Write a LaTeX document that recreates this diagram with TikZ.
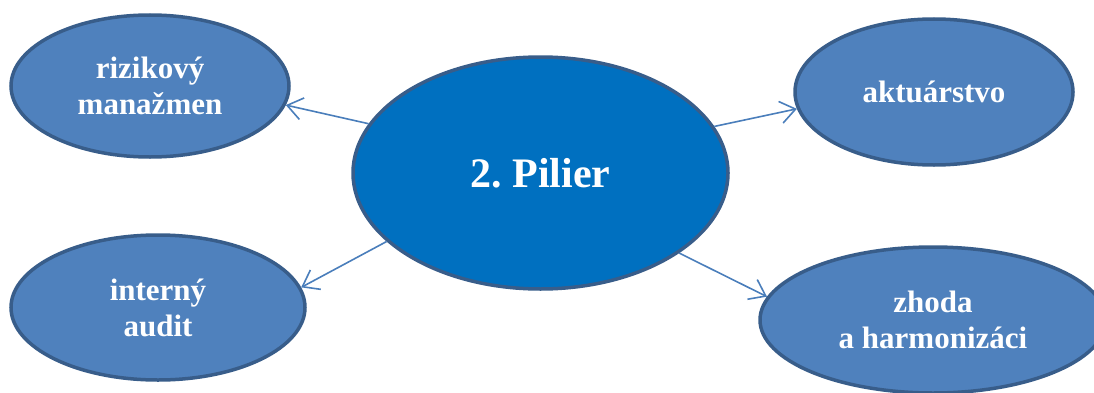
\documentclass[tikz,border=0pt]{standalone}
\usepackage{fontspec}
\setmainfont{Liberation Serif}
\usetikzlibrary{shapes.geometric,arrows.meta}
\definecolor{smallfill}{HTML}{4F81BD}
\definecolor{bigfill}{HTML}{0070C0}
\definecolor{rim}{HTML}{385D8A}
\definecolor{link}{HTML}{4A7EBB}
\tikzset{
  bubble/.style={ellipse, draw=rim, line width=3.5pt, fill=smallfill, inner sep=0pt,
    text=white, align=center, font=\bfseries\frenchspacing\fontsize{31}{36}\selectfont},
  hub/.style={bubble, fill=bigfill, font=\bfseries\frenchspacing\fontsize{42}{48}\selectfont},
  link/.style={draw=link, line width=1.6pt, -{Straight Barb[length=15pt,width=22pt,line width=1.6pt]}}
}
\begin{document}
\begin{tikzpicture}[x=1pt,y=1pt]
\path[use as bounding box, clip] (0,0) rectangle (1094,392);
\node[hub, minimum width=375pt, minimum height=232pt] (c) at (540.5,219) {2. Pilier};
\node[bubble, minimum width=278pt, minimum height=142pt] (tl) at (150,306) {rizikový\\manažmen};
\node[bubble, minimum width=278pt, minimum height=146pt] (tr) at (934,300) {aktuárstvo};
\node[bubble, minimum width=294pt, minimum height=145pt] (bl) at (158,84.5) {interný\\audit};
\node[bubble, minimum width=346pt, minimum height=146pt] (br) at (933,72) {zhoda\\a harmonizáci};
\draw[link] (c.164.3) -- (tl.-8.7);
\draw[link] (c.15.6) -- (tr.-173.3);
\draw[link] (c.204.2) -- (bl.8.8);
\draw[link] (c.-30.8) -- (br.172.6);
\end{tikzpicture}
\end{document}
